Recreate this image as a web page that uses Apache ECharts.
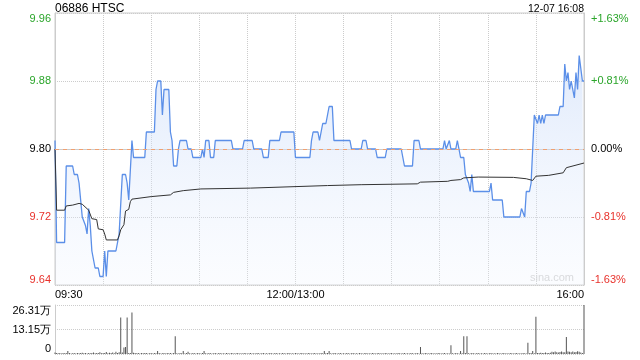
<!DOCTYPE html>
<html>
<head>
<meta charset="utf-8">
<script src="https://cdn.jsdelivr.net/npm/echarts@6/dist/echarts.min.js"></script>
<style>
html,body{margin:0;padding:0;background:#fff;}
#c{width:640px;height:360px;}
</style>
</head>
<body>
<div id="c"></div>
<script>
// ---- data ----
const titleText = '06886 HTSC';
const dateText = '12-07 16:08';
const prevClose = 9.80;

const timeLabels = {0: '09:30', 150: '12:00/13:00', 330: '16:00'};
const leftTickLabels = ['9.64', '9.72', '9.80', '9.88', '9.96'];
const rightTickLabels = ['-1.63%', '-0.81%', '0.00%', '+0.81%', '+1.63%'];
const volumeTickLabels = ['0', '13.15万', '26.31万'];

// price line: minute index (0 = 09:30, 150 = 12:00/13:00, 330 = 16:00) and price
const priceMinutes = [0,1,6,7,11,12,14,15,16,17,18,19,20,21,22,23,24,25,27,28,30,31,32,33,38,39,40,42,44,45,46,47,48,49,56,57,62,63,64,66,67,68,71,72,73,74,76,77,78,82,83,85,86,91,92,93,94,96,97,99,100,110,111,117,118,123,124,129,130,133,134,140,141,149,150,159,160,161,164,165,166,167,169,170,171,173,174,184,185,191,192,194,195,200,201,206,207,216,217,218,223,224,227,228,242,243,244,246,247,250,251,252,253,255,256,257,258,259,260,261,271,272,273,279,280,290,291,292,293,294,296,297,298,299,300,301,302,303,304,305,306,314,315,317,318,319,320,321,322,323,324,325,326,327,328,329,330];
const priceValues = [9.81,9.69,9.69,9.78,9.78,9.77,9.77,9.76,9.76,9.72,9.72,9.71,9.70,9.73,9.71,9.68,9.68,9.66,9.66,9.65,9.65,9.68,9.65,9.68,9.68,9.69,9.70,9.77,9.77,9.76,9.74,9.74,9.81,9.79,9.79,9.82,9.82,9.87,9.88,9.88,9.84,9.87,9.87,9.82,9.81,9.78,9.78,9.80,9.81,9.81,9.80,9.80,9.79,9.79,9.80,9.79,9.81,9.81,9.79,9.79,9.81,9.81,9.80,9.80,9.81,9.81,9.80,9.80,9.79,9.79,9.81,9.81,9.82,9.82,9.79,9.79,9.81,9.82,9.82,9.81,9.81,9.83,9.83,9.84,9.85,9.85,9.81,9.81,9.80,9.80,9.81,9.81,9.80,9.80,9.79,9.79,9.80,9.80,9.79,9.78,9.78,9.81,9.81,9.80,9.80,9.81,9.80,9.81,9.80,9.80,9.81,9.80,9.79,9.79,9.77,9.77,9.76,9.75,9.77,9.75,9.75,9.76,9.74,9.74,9.72,9.72,9.73,9.73,9.72,9.75,9.75,9.76,9.76,9.84,9.84,9.83,9.84,9.83,9.84,9.83,9.84,9.84,9.85,9.85,9.90,9.88,9.89,9.87,9.88,9.87,9.86,9.89,9.87,9.91,9.91,9.88,9.88];

// average price line
const avgMinutes = [0,1,6,7,11,15,17,18,21,22,23,26,27,30,31,32,39,40,41,43,44,46,47,48,60,72,74,80,91,122,170,191,226,228,245,247,253,255,264,286,294,298,300,308,317,319,330];
const avgValues = [9.80,9.728,9.728,9.733,9.734,9.736,9.735,9.733,9.728,9.727,9.718,9.717,9.706,9.705,9.700,9.693,9.693,9.698,9.705,9.711,9.727,9.729,9.738,9.741,9.744,9.746,9.749,9.751,9.753,9.754,9.757,9.758,9.759,9.761,9.762,9.763,9.764,9.766,9.767,9.7666,9.765,9.763,9.768,9.769,9.772,9.778,9.7835];

// volume per minute (万 shares), index = minute
const volumeValues = [
0.8,0.5,0.4,0.6,0.3,0.5,0.4,0.6,1.6,0.5,0.3,0.4,0.5,0.3,0.6,0.4,0.5,0.7,0.4,0.5,0.3,0.6,0.4,0.5,0.8,0.4,0.6,0.5,1.0,0.4,
0.6,0.5,1.1,0.4,0.7,0.5,0.8,0.4,1.2,0.6,0.9,19.6,0.8,3.5,3.8,19.6,0.6,0.5,22.3,0.7,0.5,0.4,0.6,0.3,0.5,0.4,0.6,0.5,0.3,0.4,
0.5,0.3,0.6,0.4,1.6,0.5,0.3,0.4,0.6,0.3,0.5,0.4,0.6,0.3,0.5,9.5,0.4,0.3,0.5,0.4,1.6,0.3,0.5,1.2,0.4,0.3,0.5,0.4,0.3,0.5,
0.4,0.3,0.5,1.6,0.4,0.3,0.5,0.4,0.3,0.4,0.5,0.3,0.4,0.5,0.3,0.4,0.3,0.5,0.4,0.3,0.5,0.4,0.3,0.4,0.5,0.3,0.4,0.3,0.5,0.4,
0.3,0.4,0.5,0.3,0.4,0.3,0.5,0.4,0.3,0.4,0.5,0.3,0.4,0.3,0.5,0.4,0.3,0.4,0.5,0.3,0.4,0.3,0.5,0.4,0.3,0.4,0.5,0.3,0.4,0.3,
0.5,0.4,0.3,0.4,0.5,0.3,0.4,0.3,0.5,0.4,0.3,0.4,0.5,0.3,0.4,0.3,0.5,0.4,1.6,0.4,0.5,1.6,0.4,0.3,0.5,0.4,0.3,0.4,0.5,0.3,
0.4,0.3,0.5,0.4,0.3,0.4,0.5,0.3,0.4,0.3,0.5,0.4,0.3,0.4,0.5,0.3,0.4,0.3,0.5,0.4,0.3,0.4,0.5,0.3,0.4,0.3,0.5,0.4,0.3,0.4,
0.5,0.3,0.4,0.3,0.5,0.4,0.3,0.4,0.5,0.3,0.4,0.3,0.5,0.4,0.3,0.4,0.5,0.3,3.8,0.4,0.3,0.5,0.4,0.3,0.4,0.5,0.3,0.4,0.3,0.5,
0.4,0.3,0.4,0.5,0.3,0.4,0.3,4.7,0.4,0.3,0.5,0.4,0.3,1.6,0.4,9.5,0.5,9.5,0.4,0.3,0.5,0.4,0.3,0.4,0.5,0.3,0.4,0.3,0.5,0.4,
0.3,0.4,0.5,0.3,0.4,0.3,0.5,0.4,0.3,0.4,0.5,0.3,0.4,0.3,0.5,0.4,0.3,0.4,0.5,0.3,0.4,0.3,0.5,0.4,0.3,6.0,0.4,0.5,1.6,0.4,
20.0,0.6,0.5,0.7,0.6,0.5,0.8,0.6,0.5,0.7,1.2,0.9,1.4,1.0,0.8,1.1,1.3,0.9,1.0,9.1,1.4,1.2,1.0,1.3,0.9,1.1,1.5,1.2,0.8,0.6,
26.3
];

// ---- chart ----
const FONT = "'Liberation Sans', Arial, sans-serif";
const GREEN = '#2aa52a';
const RED = '#e8322c';
const GRID_L = 55, GRID_W = 529;

function signColor(v) {
  v = parseFloat(v);
  if (v > 1e-9) return GREEN;
  if (v < -1e-9) return RED;
  return '#000';
}
function tickIndex(v, min, step) { return Math.round((parseFloat(v) - min) / step); }

const priceData = priceMinutes.map((m, i) => [m, +(priceValues[i] - prevClose).toFixed(4)]);
const avgData = avgMinutes.map((m, i) => [m, +(avgValues[i] - prevClose).toFixed(4)]);
const volData = volumeValues.map((v, i) => [i, v]);

const chart = echarts.init(document.getElementById('c'), null, {renderer: 'canvas'});
chart.setOption({
  animation: false,
  backgroundColor: '#fff',
  textStyle: {fontFamily: FONT},
  title: {
    text: titleText, left: GRID_L, top: 3, padding: 0,
    textStyle: {fontSize: 12, fontWeight: 'normal', color: '#000', fontFamily: FONT}
  },
  graphic: [
    {type: 'text', right: 56, top: 4, style: {text: dateText, font: "10.5px 'Liberation Sans', Arial, sans-serif", fill: '#000'}},
    {type: 'text', right: 66, top: 272, style: {text: 'sina.com', font: "11px 'Liberation Sans', Arial, sans-serif", fill: '#d2d2d2'}}
  ],
  grid: [
    {left: GRID_L, width: GRID_W, top: 13, height: 272, show: true, borderColor: '#cccccc', borderWidth: 1, containLabel: false},
    {left: GRID_L, width: GRID_W, top: 305, height: 49, containLabel: false}
  ],
  xAxis: [
    {
      type: 'value', gridIndex: 0, min: 0, max: 330, interval: 30,
      axisLine: {show: true, lineStyle: {color: '#cccccc'}},
      axisTick: {show: false},
      splitLine: {show: true, lineStyle: {color: '#cccccc', type: 'dotted'}},
      axisLabel: {
        show: true, margin: 4, fontSize: 11, color: '#000', fontFamily: FONT,
        alignMinLabel: 'left', alignMaxLabel: 'right', showMinLabel: true, showMaxLabel: true,
        formatter: v => timeLabels[Math.round(v)] || ''
      }
    },
    {
      type: 'value', gridIndex: 1, min: 0, max: 330, interval: 30,
      axisLine: {show: false}, axisTick: {show: false},
      splitLine: {show: false}, axisLabel: {show: false}
    }
  ],
  yAxis: [
    {
      type: 'value', gridIndex: 0, min: -0.16, max: 0.16, interval: 0.08,
      axisLine: {show: true, lineStyle: {color: '#cccccc'}},
      axisTick: {show: false},
      splitLine: {show: true, lineStyle: {color: '#cccccc', type: 'dotted'}},
      axisLabel: {
        margin: 4, fontSize: 11, fontFamily: FONT,
        verticalAlignMinLabel: 'bottom', verticalAlignMaxLabel: 'top',
        color: v => signColor(v),
        formatter: v => leftTickLabels[tickIndex(v, -0.16, 0.08)]
      }
    },
    {
      type: 'value', gridIndex: 0, position: 'right', min: -0.16, max: 0.16, interval: 0.08,
      axisLine: {show: true, lineStyle: {color: '#cccccc'}},
      axisTick: {show: false},
      splitLine: {show: false},
      axisLabel: {
        margin: 7, fontSize: 11, fontFamily: FONT,
        verticalAlignMinLabel: 'bottom', verticalAlignMaxLabel: 'top',
        color: v => signColor(v),
        formatter: v => rightTickLabels[tickIndex(v, -0.16, 0.08)]
      }
    },
    {
      type: 'value', gridIndex: 1, min: 0, max: 26.31, interval: 13.155,
      axisLine: {show: true, lineStyle: {color: '#cccccc'}},
      axisTick: {show: false},
      splitLine: {show: true, lineStyle: {color: '#cccccc', type: 'dotted'}},
      axisLabel: {
        margin: 4, fontSize: 11, color: '#000', fontFamily: FONT,
        verticalAlignMinLabel: 'bottom', verticalAlignMaxLabel: 'top',
        formatter: v => volumeTickLabels[tickIndex(v, 0, 13.155)]
      }
    }
  ],
  series: [
    {
      type: 'line', xAxisIndex: 0, yAxisIndex: 0, data: priceData,
      showSymbol: false, symbol: 'none',
      lineStyle: {color: '#5b8fe8', width: 1.3},
      areaStyle: {
        origin: 'start',
        color: new echarts.graphic.LinearGradient(0, 0, 0, 1, [
          {offset: 0, color: 'rgba(196,215,248,0.75)'},
          {offset: 1, color: 'rgba(238,244,254,0.35)'}
        ])
      },
      markLine: {
        silent: true, symbol: 'none', label: {show: false},
        lineStyle: {color: '#f0a070', type: [4, 4], width: 1},
        data: [{yAxis: 0}]
      },
      z: 3
    },
    {
      type: 'line', xAxisIndex: 0, yAxisIndex: 0, data: avgData,
      showSymbol: false, symbol: 'none',
      lineStyle: {color: '#333333', width: 1},
      z: 4
    },
    {
      type: 'bar', xAxisIndex: 1, yAxisIndex: 2, data: volData,
      barWidth: 1, itemStyle: {color: '#555555'}
    }
  ]
});
</script>
</body>
</html>
